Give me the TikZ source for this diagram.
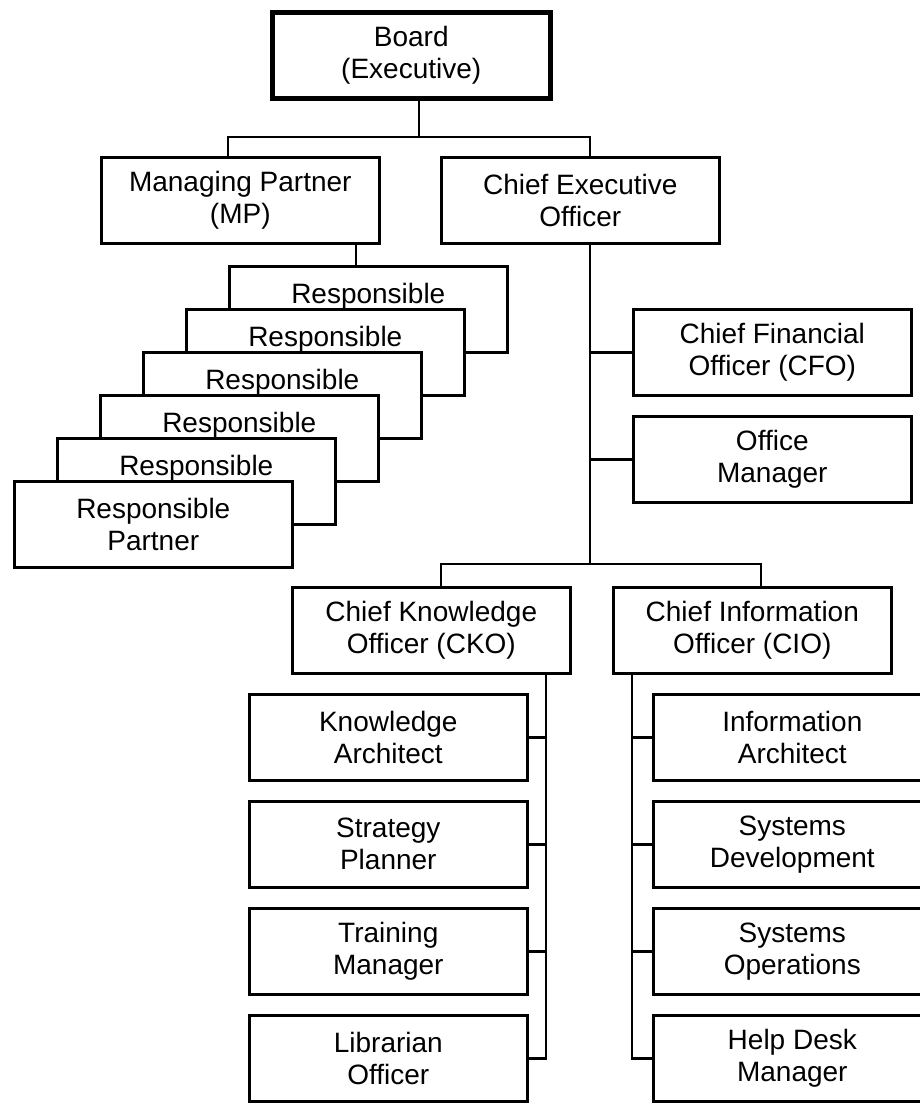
\documentclass[tikz,border=0pt]{standalone}
\usepackage{fontspec}
\setmainfont{Liberation Sans}
\begin{document}
\begin{tikzpicture}[x=1pt,y=-1pt,
  orgbox/.style={draw, line width=2.6pt, fill=white, minimum width=278pt,
    minimum height=86pt, inner sep=0pt, align=center, anchor=north west,
    font=\fontsize{28}{32}\selectfont},
  topbox/.style={orgbox, line width=4.5pt},
  link/.style={line width=2.4pt, line cap=rect}]
\useasboundingbox (0,0) rectangle (920,1104);
\clip (0,0) rectangle (920,1104);

% top level
\node[topbox] (board) at (270,10) {Board\\(Executive)};
\node[orgbox] (mp) at (100,156) {Managing Partner\\(MP)};
\node[orgbox] (ceo) at (440,156) {Chief Executive\\Officer};

% stacked partner boxes, back to front
\foreach \i in {1,...,5} {
  \node[orgbox] (r\i) at ({228-43*(\i-1)},{265+43*(\i-1)}) {Responsible\\~};
}
\node[orgbox] (r6) at (13,480) {Responsible\\Partner};

% staff under the CEO
\node[orgbox] (cfo) at (632,308) {Chief Financial\\Officer (CFO)};
\node[orgbox] (om) at (632,415) {Office\\Manager};

% second level
\node[orgbox] (cko) at (291,586) {Chief Knowledge\\Officer (CKO)};
\node[orgbox] (cio) at (612,586) {Chief Information\\Officer (CIO)};

% knowledge column
\node[orgbox] (ka) at (248,693) {Knowledge\\Architect};
\node[orgbox] (sp) at (248,800) {Strategy\\Planner};
\node[orgbox] (tm) at (248,907) {Training\\Manager};
\node[orgbox] (lo) at (248,1014) {Librarian\\Officer};

% information column
\node[orgbox] (ia) at (652,693) {Information\\Architect};
\node[orgbox] (sd) at (652,800) {Systems\\Development};
\node[orgbox] (so) at (652,907) {Systems\\Operations};
\node[orgbox] (hd) at (652,1014) {Help Desk\\Manager};

% connectors
\coordinate (bx) at (419,137);
\coordinate (mpdrop) at (228,137);
\coordinate (ceodrop) at (590,137);
\draw[link] (bx |- board.south) -- (bx);
\draw[link] (mpdrop |- mp.north) -- (mpdrop) -- (ceodrop) -- (ceodrop |- ceo.north);

\coordinate (mpx) at (356,0);
\draw[link] (mpx |- mp.south) -- (mpx |- r1.north);

\coordinate (spine) at (590,564);
\draw[link] (spine |- ceo.south) -- (spine);
\draw[link] (spine |- cfo.west) -- (cfo.west);
\draw[link] (spine |- om.west) -- (om.west);

\coordinate (ckodrop) at (441,564);
\coordinate (ciodrop) at (761,564);
\draw[link] (ckodrop |- cko.north) -- (ckodrop) -- (ciodrop) -- (ciodrop |- cio.north);

\coordinate (ckospine) at (546,0);
\draw[link] (ckospine |- cko.south) -- (ckospine |- lo.east);
\foreach \n in {ka,sp,tm,lo} \draw[link] (ckospine |- \n.east) -- (\n.east);

\coordinate (ciospine) at (632,0);
\draw[link] (ciospine |- cio.south) -- (ciospine |- hd.west);
\foreach \n in {ia,sd,so,hd} \draw[link] (ciospine |- \n.west) -- (\n.west);
\end{tikzpicture}
\end{document}
